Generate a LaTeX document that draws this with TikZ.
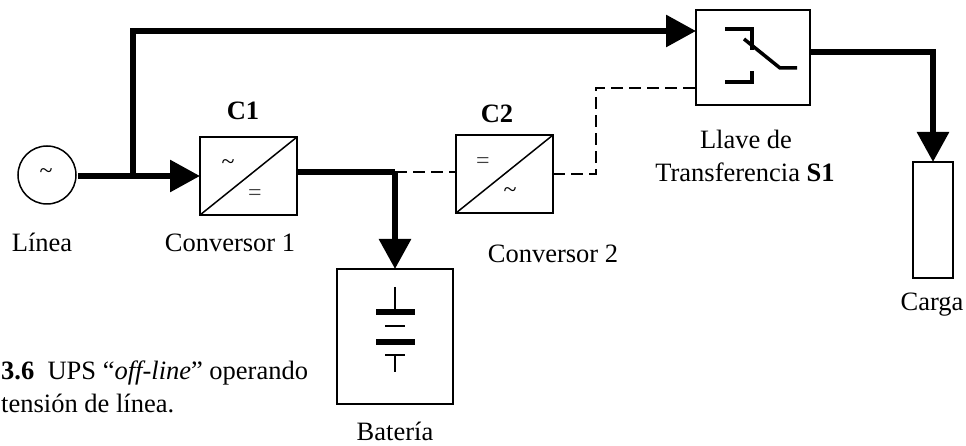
\documentclass[tikz,border=0pt]{standalone}
\usepackage{fontspec}
\setmainfont{Liberation Serif}
\usetikzlibrary{arrows.meta}

\tikzset{
  power/.style={line width=6pt, -{Triangle[length=30pt,width=31pt]}},
  powerline/.style={line width=6pt},
  signal/.style={line width=1.5pt, dash pattern=on 12pt off 6pt},
  block/.style={draw, line width=1.5pt, inner sep=0pt, outer sep=0pt, anchor=north west},
  label/.style={font=\fontsize{26.5}{33}\selectfont, anchor=base, inner sep=0pt},
  symb/.style={font=\fontsize{24}{28}\selectfont, inner sep=0pt},
}

\begin{document}
\begin{tikzpicture}[x=1pt,y=-1pt]
        \useasboundingbox (0,0) rectangle (966,446);

        \begin{scope}[every node/.style={block}]
          \node[minimum width=97pt, minimum height=78pt]   (c1)    at (200,137) {};
          \node[minimum width=97pt, minimum height=78pt]   (c2)    at (456,135) {};
          \node[minimum width=114pt, minimum height=95pt]  (s1)    at (696,10)  {};
          \node[minimum width=40pt, minimum height=116pt]  (carga) at (913,162) {};
          \node[minimum width=116pt, minimum height=135pt] (bat)   at (337,269) {};
        \end{scope}
        \node[circle, draw, line width=1.5pt, minimum size=58pt, inner sep=0pt, outer sep=0pt] (linea) at (47,175) {};

        % converter diagonals
        \draw[line width=1.5pt] (c1.south west) -- (c1.north east);
        \draw[line width=1.5pt] (c2.south west) -- (c2.north east);

        \node[symb] (s0) at (46,174)  {\textasciitilde};
        \node[symb] (s2) at (228,165) {\textasciitilde};
        \node[symb, text=black!75] (s3) at (255,195) {=};
        \node[symb, text=black!75] (s4) at (483,163) {=};
        \node[symb] (s5) at (510,193) {\textasciitilde};

        % thick paths
        \coordinate (j1) at (133,176);
        \coordinate (j2) at (133,31);
        \coordinate (j3) at (395,172);
        \coordinate (j4) at (933,52);
        \draw[power, shorten <=2pt] (linea.east |- j1) -- (c1.west |- j1);
        \draw[power] (j1) -- (j2) -- (s1.west |- j2);
        \draw[powerline] (c1.east |- j3) -- (j3);
        \draw[power] (j3) -- (bat.north);
        \draw[power] (s1.east |- j4) -- (j4) -- (carga.north);

        % dashed paths
        \coordinate (d1) at (596,174);
        \coordinate (d2) at (596,88);
        \draw[signal] (j3) -- (c2.west |- j3);
        \draw[signal] (c2.east |- d1) -- (d1) -- (d2) -- (s1.west |- d2);

        % switch
        \begin{scope}[line width=3.5pt]
          \draw (725,29) -- (752,29) -- (752,50);
          \draw (725,82) -- (752,82) -- (752,71);
          \draw (744,39) -- (780,68) -- (797,68);
        \end{scope}

        % battery
        \draw[line width=1.5pt] (395,287) -- (395,312);
        \draw[line width=6pt] (376,312) -- (415,312);
        \draw[line width=1.5pt] (385,326) -- (405,326);
        \draw[line width=6pt] (376,342) -- (415,342);
        \draw[line width=1.5pt] (385,355) -- (405,355);
        \draw[line width=1.5pt] (395,355) -- (395,372);

        \begin{scope}[every node/.style={label}]
          \node (lc1)  at (243,120) {\textbf{C1}};
          \node (lc2)  at (497,123) {\textbf{C2}};
          \node (l1)   at (42,252)  {Línea};
          \node (l2)   at (230,252) {Conversor 1};
          \node (l3)   at (553,262) {Conversor 2};
          \node (l4)   at (746,149) {Llave de};
          \node (l4b)  at (745,182) {Transferencia \textbf{S1}};
          \node (l5)   at (932,310) {Carga};
          \node (l6)   at (395,440) {Batería};
        \end{scope}
        \node[label, anchor=base west] (cap)  at (1,379) {\textbf{3.6}\enspace UPS “\textit{off-line}” operando};
        \node[label, anchor=base west] (cap2) at (1,412) {tensión de línea.};
\end{tikzpicture}
\end{document}
